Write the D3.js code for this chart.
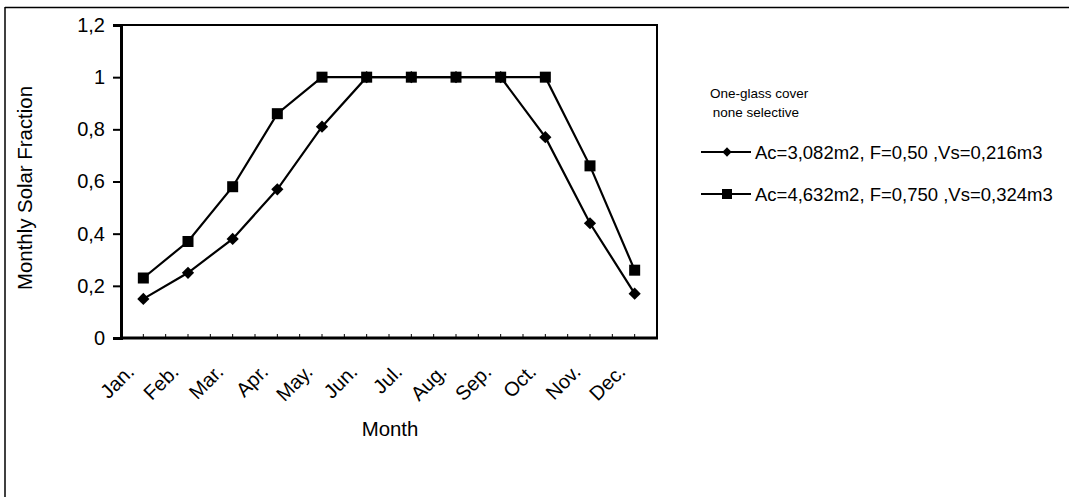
<!DOCTYPE html>
<html><head><meta charset="utf-8">
<script src="https://cdn.jsdelivr.net/npm/d3@7"></script>
<style>body{margin:0;background:#fff;}svg{display:block;font-family:"Liberation Sans",Arial,sans-serif;}</style>
</head><body>
<svg id="c" width="1069" height="497"></svg>
<script>
const months = ["Jan.","Feb.","Mar.","Apr.","May.","Jun.","Jul.","Aug.","Sep.","Oct.","Nov.","Dec."];
const series1 = [0.15,0.25,0.38,0.57,0.81,1,1,1,1,0.77,0.44,0.17];
const series2 = [0.23,0.37,0.58,0.86,1,1,1,1,1,1,0.66,0.26];
const seriesNames = ["Ac=3,082m2, F=0,50 ,Vs=0,216m3","Ac=4,632m2, F=0,750 ,Vs=0,324m3"];
const yTicks = [0,0.2,0.4,0.6,0.8,1,1.2];
const legendTitle = ["One-glass cover"," none selective"];

const svg = d3.select("#c");
svg.append("rect").attr("width",1069).attr("height",497).attr("fill","#fff");
// outer frame (top & left visible)
svg.append("line").attr("x1",5).attr("x2",1069).attr("y1",7.5).attr("y2",7.5).attr("stroke","#000").attr("stroke-width",1.5);
svg.append("line").attr("x1",5).attr("x2",5).attr("y1",7).attr("y2",497).attr("stroke","#000").attr("stroke-width",1.5);

const L=121, R=657, T=25, B=338;
const x = d3.scaleBand().domain(months).range([L,R]).padding(0);
const y = d3.scaleLinear().domain([0,1.2]).range([B,T]);
const cx = m => x(m)+x.bandwidth()/2;

// plot frame
svg.append("rect").attr("x",L).attr("y",T).attr("width",R-L).attr("height",B-T)
  .attr("fill","none").attr("stroke","#000").attr("stroke-width",2);

// y axis
const yAxis = d3.axisLeft(y).tickValues(yTicks).tickSize(8).tickPadding(8)
  .tickFormat(d=>d3.format("")(+d.toFixed(1)).replace(".",","));
const gy = svg.append("g").attr("transform",`translate(${L},0)`).call(yAxis);
gy.select(".domain").attr("stroke","#000").attr("stroke-width",3);
gy.selectAll(".tick line").attr("stroke","#000").attr("stroke-width",2);
gy.selectAll(".tick text").attr("font-size",20).attr("fill","#000").attr("font-family","Liberation Sans, Arial");

// x axis ticks (inside, at centers and boundaries)
const halfTicks = [];
months.forEach(m=>{halfTicks.push(x(m)); halfTicks.push(cx(m));});
halfTicks.push(R);
svg.append("g").selectAll("line").data(halfTicks.slice(1,-1)).join("line")
  .attr("x1",d=>d).attr("x2",d=>d).attr("y1",B).attr("y2",B-4).attr("stroke","#000").attr("stroke-width",1);
svg.append("line").attr("x1",L).attr("x2",R+1).attr("y1",B).attr("y2",B).attr("stroke","#000").attr("stroke-width",3);

// x labels rotated
svg.append("g").selectAll("text").data(months).join("text")
  .attr("transform",d=>`translate(${cx(d)-8},${B+35}) rotate(-45)`)
  .attr("text-anchor","end").attr("font-size",20).attr("fill","#000").text(d=>d);

// axis titles
svg.append("text").attr("x",390).attr("y",436).attr("text-anchor","middle").attr("font-size",20.4).text("Month");
svg.append("text").attr("transform",`translate(32,188) rotate(-90)`).attr("text-anchor","middle").attr("font-size",20.4).text("Monthly Solar Fraction");

// lines
const line = d3.line().x((d,i)=>cx(months[i])).y(d=>y(d));
function drawSeries(vals, kind){
  svg.append("path").datum(vals).attr("d",line).attr("fill","none").attr("stroke","#000").attr("stroke-width",2.2);
  const g = svg.append("g");
  vals.forEach((v,i)=>{
    if(kind==="d"){
      g.append("path").attr("d",d3.symbol().type(d3.symbolDiamond2).size(95)()).attr("transform",`translate(${cx(months[i])},${y(v)})`).attr("fill","#000");
    } else {
      g.append("rect").attr("x",cx(months[i])-5.5).attr("y",y(v)-5.5).attr("width",11).attr("height",11).attr("fill","#000");
    }
  });
}
drawSeries(series1,"d");
drawSeries(series2,"s");

// legend
svg.append("text").attr("x",710).attr("y",98).attr("font-size",13.5).text(legendTitle[0]);
svg.append("text").attr("x",709).attr("y",117).attr("font-size",13.5).attr("xml:space","preserve").text(legendTitle[1]);
const ly = [152,194];
seriesNames.forEach((n,i)=>{
  svg.append("line").attr("x1",701).attr("x2",751).attr("y1",ly[i]).attr("y2",ly[i]).attr("stroke","#000").attr("stroke-width",2);
  if(i===0){
    svg.append("path").attr("d",d3.symbol().type(d3.symbolDiamond2).size(55)()).attr("transform",`translate(727,${ly[i]})`).attr("fill","#000");
  } else {
    svg.append("rect").attr("x",727-5).attr("y",ly[i]-5).attr("width",10).attr("height",10).attr("fill","#000");
  }
  svg.append("text").attr("x",755).attr("y",ly[i]+7).attr("font-size",18.5).text(n);
});
</script>
</body></html>
